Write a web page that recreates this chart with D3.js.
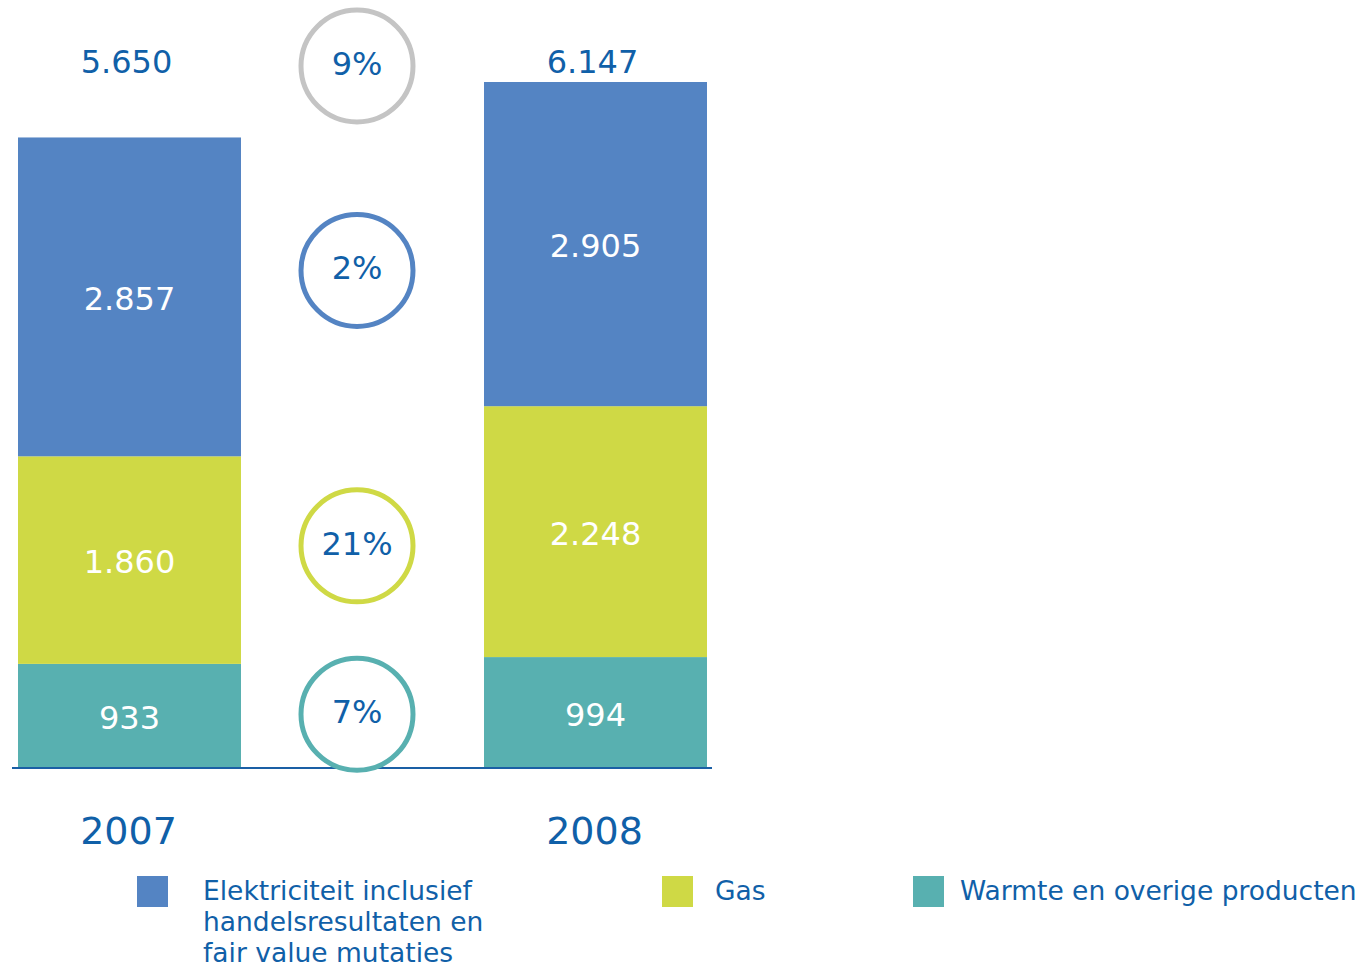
<!DOCTYPE html>
<html>
<head>
<meta charset="utf-8">
<script src="https://cdn.jsdelivr.net/npm/d3@7"></script>
<style>
  body { margin: 0; background: #fff; }
  text { font-family: "DejaVu Sans", Verdana, sans-serif; }
</style>
</head>
<body>
<div id="chart"></div>
<script>
// data
const years = ["2007", "2008"];
const series = ["elektriciteit", "gas", "warmte"];
const elektriciteit = [2857, 2905];
const gas = [1860, 2248];
const warmte = [933, 994];
const totals = [5650, 6147];
const growthTotal = "9%";
const growth = ["2%", "21%", "7%"]; // per series, same order
const legendLabels = [
  ["Elektriciteit inclusief", "handelsresultaten en", "fair value mutaties"],
  ["Gas"],
  ["Warmte en overige producten"]
];

const colors = { elektriciteit: "#5484C3", gas: "#CFD945", warmte: "#58B0B0" };
const textBlue = "#1060A8";

const width = 1367, height = 968;
const svg = d3.select("#chart").append("svg")
  .attr("width", width).attr("height", height);

const nl = d3.formatLocale({decimal: ",", thousands: ".", grouping: [3], currency: ["€", ""]});
const fmt = nl.format(",");

// build table for the stack (bottom to top: warmte, gas, elektriciteit)
const table = years.map((y, i) => ({
  year: y, elektriciteit: elektriciteit[i], gas: gas[i], warmte: warmte[i]
}));
const stack = d3.stack().keys(["warmte", "gas", "elektriciteit"])(table);

const x = d3.scaleBand().domain(years).range([18, 707])
  .paddingInner(0.5215).paddingOuter(0);
const y = d3.scaleLinear().domain([0, d3.max(totals)]).range([768, 82]);

// bars
const layers = svg.append("g").selectAll("g")
  .data(stack).enter().append("g")
  .attr("fill", d => colors[d.key]);

layers.selectAll("rect")
  .data(d => d).enter().append("rect")
  .attr("x", d => x(d.data.year))
  .attr("y", d => y(d[1]))
  .attr("width", x.bandwidth())
  .attr("height", d => y(d[0]) - y(d[1]));

// value labels in segments
layers.selectAll("text")
  .data(d => d).enter().append("text")
  .attr("x", d => x(d.data.year) + x.bandwidth() / 2)
  .attr("y", d => (y(d[0]) + y(d[1])) / 2 + 2)
  .attr("text-anchor", "middle")
  .attr("dominant-baseline", "central")
  .attr("fill", "#fff")
  .style("font-size", "32px")
  .text(d => fmt(d[1] - d[0]));

// totals
svg.append("g").selectAll("text")
  .data(years).enter().append("text")
  .attr("x", d => x(d) + x.bandwidth() / 2 - 3)
  .attr("y", 62)
  .attr("text-anchor", "middle")
  .attr("dominant-baseline", "central")
  .attr("fill", textBlue)
  .style("font-size", "32px")
  .text((d, i) => fmt(totals[i]));

// baseline
svg.append("line")
  .attr("x1", 12).attr("x2", 712)
  .attr("y1", y(0)).attr("y2", y(0))
  .attr("stroke", "#1A5FA5").attr("stroke-width", 2);

// year labels
svg.append("g").selectAll("text")
  .data(years).enter().append("text")
  .attr("x", d => x(d) + x.bandwidth() / 2 - 1)
  .attr("y", 831)
  .attr("text-anchor", "middle")
  .attr("dominant-baseline", "central")
  .attr("fill", textBlue)
  .style("font-size", "38px")
  .text(d => d);

// growth circles, placed beside the average middle of each series
const cx = 357, r = 56;
const circles = [{label: growthTotal, color: "#C4C4C4", cy: 66}];
series.forEach((s, i) => {
  const layer = stack.find(l => l.key === s);
  const mid = d3.mean(layer, d => (y(d[0]) + y(d[1])) / 2);
  circles.push({label: growth[i], color: colors[s], cy: mid});
});

const cg = svg.append("g").selectAll("g")
  .data(circles).enter().append("g")
  .attr("transform", d => "translate(" + cx + "," + d.cy + ")");
cg.append("circle")
  .attr("r", r)
  .attr("fill", "#fff")
  .attr("stroke", d => d.color)
  .attr("stroke-width", 5);
cg.append("text")
  .attr("text-anchor", "middle")
  .attr("dominant-baseline", "central")
  .attr("y", -2)
  .attr("fill", textBlue)
  .style("font-size", "32px")
  .text(d => d.label);

// legend
const legendX = [137, 662, 913];
const lg = svg.append("g").selectAll("g")
  .data(series).enter().append("g")
  .attr("transform", (d, i) => "translate(" + legendX[i] + ",876)");
lg.append("rect")
  .attr("width", 31).attr("height", 31)
  .attr("fill", d => colors[d]);
lg.each(function(d, i) {
  const t = d3.select(this).append("text")
    .attr("y", 24)
    .attr("fill", textBlue)
    .style("font-size", "26.5px");
  legendLabels[i].forEach((line, j) => {
    t.append("tspan").attr("x", i === 0 ? 66 : (i === 1 ? 53 : 47))
      .attr("dy", j === 0 ? 0 : 31).text(line);
  });
});
</script>
</body>
</html>
